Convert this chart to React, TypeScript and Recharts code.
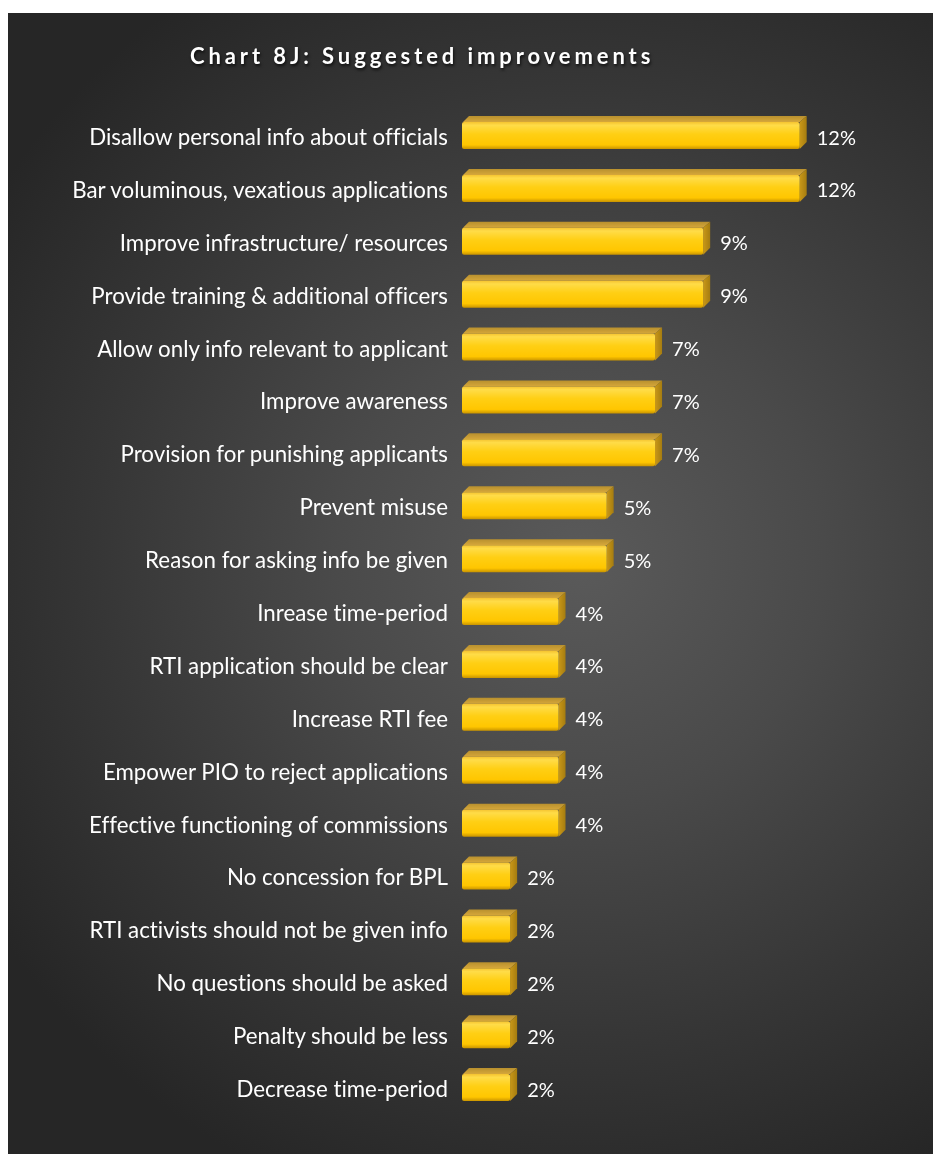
import React from 'react';
import { BarChart, Bar, XAxis, YAxis, LabelList } from 'recharts';

const categories = [
  'Disallow personal info about officials',
  'Bar voluminous, vexatious applications',
  'Improve infrastructure/ resources',
  'Provide training & additional officers',
  'Allow only info relevant to applicant',
  'Improve awareness',
  'Provision for punishing applicants',
  'Prevent misuse',
  'Reason for asking info be given',
  'Inrease time-period',
  'RTI application should be clear',
  'Increase RTI fee',
  'Empower PIO to reject applications',
  'Effective functioning of commissions',
  'No concession for BPL',
  'RTI activists should not be given info',
  'No questions should be asked',
  'Penalty should be less',
  'Decrease time-period',
];

const values = [
  12.28, 12.28, 8.77, 8.77, 7.02, 7.02, 7.02, 5.26, 5.26, 3.51, 3.51, 3.51, 3.51, 3.51, 1.75, 1.75,
  1.75, 1.75, 1.75,
];

const title = 'Chart 8J: Suggested improvements';

const data = categories.map((name, i) => ({ name, value: values[i] }));

const FONT = 'Lato, "Open Sans", sans-serif';

const Bar3D = (props: any) => {
  const { x, y, width, height } = props;
  const dx = 7;
  const dy = 6;
  const fy = y + dy;
  const fh = height - dy;
  return (
    <g>
      <path
        d={`M${x + 1},${fy} L${x + dx},${y} L${x + width + dx},${y} L${x + width},${fy} Z`}
        fill="url(#topGrad)"
      />
      <path
        d={`M${x + width},${fy} L${x + width + dx},${y} L${x + width + dx},${y + fh - 1} L${x + width},${y + height} Z`}
        fill="url(#sideGrad)"
      />
      <rect x={x} y={fy} width={width} height={fh} rx={2} ry={2} fill="url(#frontGrad)" />
    </g>
  );
};

const CatTick = (props: any) => {
  const { x, y, payload } = props;
  return (
    <text
      x={x}
      y={y + 4}
      textAnchor="end"
      dominantBaseline="central"
      fill="#ffffff"
      fontFamily={FONT}
      fontSize={22.3}
      style={{ fontVariantLigatures: 'none' }}
    >
      {payload.value}
    </text>
  );
};

const ValueLabel = (props: any) => {
  const { x, y, width, height, value } = props;
  return (
    <text
      x={x + width + 17}
      y={y + height / 2 + 4}
      dominantBaseline="central"
      fill="#ffffff"
      fontFamily={FONT}
      fontSize={20}
    >
      {Math.round(value)}%
    </text>
  );
};

export default function App() {
  return (
    <div
      style={{
        position: 'fixed',
        left: 8,
        top: 13,
        width: 925,
        height: 1141,
        background:
          'radial-gradient(ellipse 75% 60% at 62% 48%, #5a5a5a 0%, #4a4a4a 35%, #363636 70%, #262626 100%)',
      }}
    >
      <svg width={0} height={0} style={{ position: 'absolute' }}>
        <defs>
          <linearGradient id="frontGrad" x1="0" y1="0" x2="0" y2="1">
            <stop offset="0%" stopColor="#f5c330" />
            <stop offset="12%" stopColor="#ffdc48" />
            <stop offset="45%" stopColor="#ffcf14" />
            <stop offset="85%" stopColor="#ffc600" />
            <stop offset="100%" stopColor="#c99400" />
          </linearGradient>
          <linearGradient id="topGrad" x1="0" y1="0" x2="0" y2="1">
            <stop offset="0%" stopColor="#b8902e" />
            <stop offset="100%" stopColor="#d6a73a" />
          </linearGradient>
          <linearGradient id="sideGrad" x1="0" y1="0" x2="1" y2="0">
            <stop offset="0%" stopColor="#c99818" />
            <stop offset="100%" stopColor="#a57c10" />
          </linearGradient>
        </defs>
      </svg>
      <div
        style={{
          position: 'absolute',
          left: 182,
          top: 29,
          color: '#ffffff',
          fontFamily: FONT,
          fontWeight: 700,
          fontSize: 22,
          letterSpacing: 3.9,
          textShadow: '1px 2px 3px rgba(0,0,0,0.7)',
          whiteSpace: 'nowrap',
          fontVariantLigatures: 'none',
        }}
      >
        {title}
      </div>
      <BarChart
        width={925}
        height={1141}
        data={data}
        layout="vertical"
        margin={{ top: 93, right: 31, bottom: 43, left: 0 }}
        barCategoryGap={0}
        style={{ position: 'absolute', left: 0, top: 0 }}
      >
        <XAxis type="number" domain={[0, 16]} hide />
        <YAxis
          type="category"
          dataKey="name"
          width={454}
          axisLine={false}
          tickLine={false}
          tick={<CatTick />}
          tickMargin={8}
          interval={0}
        />
        <Bar dataKey="value" barSize={33} shape={<Bar3D />} isAnimationActive={false}>
          <LabelList dataKey="value" content={<ValueLabel />} />
        </Bar>
      </BarChart>
    </div>
  );
}
